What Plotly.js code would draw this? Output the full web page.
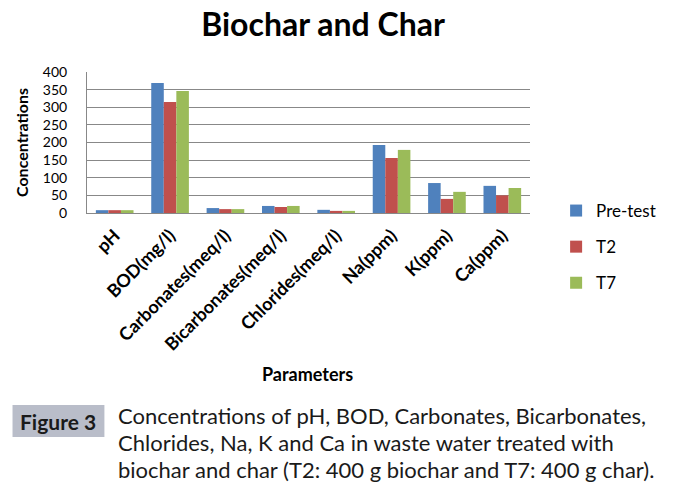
<!DOCTYPE html>
<html>
<head>
<meta charset="utf-8">
<script src="https://cdn.plot.ly/plotly-3.0.1.min.js"></script>
<style>html,body{margin:0;padding:0;background:#fff;}#chart{width:673px;height:490px;}</style>
</head>
<body>
<div id="chart"></div>
<script>
const categories = ["pH", "BOD(mg/l)", "Carbonates(meq/l)", "Bicarbonates(meq/l)", "Chlorides(meq/l)", "Na(ppm)", "K(ppm)", "Ca(ppm)"];
const preTest = [8, 369, 14, 20, 9, 193, 85, 77];
const t2 = [8, 315, 11, 17, 6, 156, 40, 50];
const t7 = [8, 346, 11, 20, 6, 179, 60, 71];
const seriesNames = ["Pre-test", "T2", "T7"];
const yTicks = [0, 50, 100, 150, 200, 250, 300, 350, 400];
const captionLines = [
  "Concentrations of pH, BOD, Carbonates, Bicarbonates,",
  "Chlorides, Na, K and Ca in waste water treated with",
  "biochar and char (T2: 400 g biochar and T7: 400 g char)."
];

const FONT = "Lato, 'Open Sans', sans-serif";
const colors = ["#4f81bd", "#c0504d", "#9bbb59"];
const seriesData = [preTest, t2, t7];

const traces = seriesData.map((vals, i) => ({
  type: "bar",
  x: categories,
  y: vals,
  name: seriesNames[i],
  legendgroup: "g" + i,
  marker: {color: colors[i], line: {width: 0}},
  hoverinfo: "x+y+name"
}));

// plot area: x 87..545, y 72..213
const L = 87, R = 545, T = 72, B = 213;
const px = x => (x - L) / (R - L);
const py = y => (B - y) / (B - T);

const annotations = [
  {text: "<b>Parameters</b>", xref: "paper", yref: "paper", x: px(315), y: py(374),
   xanchor: "center", yanchor: "middle", showarrow: false,
   font: {family: FONT, size: 18, color: "#000"}},
  {text: "<b>Figure 3</b>", xref: "paper", yref: "paper", x: px(57), y: py(421),
   xanchor: "center", yanchor: "middle", showarrow: false,
   font: {family: FONT, size: 21, color: "#1a1a1a"}}
];
const lineY = [415, 442, 469];
captionLines.forEach((t, i) => {
  annotations.push({text: t, xref: "paper", yref: "paper", x: px(117), y: py(lineY[i]),
    xanchor: "left", yanchor: "middle", showarrow: false,
    font: {family: FONT, size: 22, color: "#1a1a1a"}});
});

const layout = {
  width: 673, height: 490,
  margin: {l: L, r: 673 - R, t: T, b: 490 - B, pad: 0},
  paper_bgcolor: "#fff", plot_bgcolor: "#fff",
  title: {text: "<b>Biochar and Char</b>", x: 0.48, xanchor: "center", y: 1 - 25/490, yanchor: "middle",
          font: {family: FONT, size: 32, color: "#000"}},
  barmode: "group", bargap: 0.32, bargroupgap: 0,
  xaxis: {type: "category", tickangle: -45, showgrid: false, showline: true, linecolor: "#888", linewidth: 1,
          ticks: "", tickfont: {family: FONT, size: 18, color: "#000", weight: "bold"}, automargin: false,
          ticklabelstandoff: 4, fixedrange: true},
  yaxis: {range: [0, 400], tickvals: yTicks, ticktext: yTicks.map(String), showgrid: true, gridcolor: "#888", gridwidth: 1,
          showline: true, linecolor: "#888", linewidth: 1, zeroline: false, ticks: "", ticklen: 0,
          tickfont: {family: FONT, size: 14, color: "#000"}, automargin: false, ticklabelstandoff: 16, fixedrange: true,
          title: {text: "<b>Concentrations</b>", standoff: 10, font: {family: FONT, size: 16, color: "#000"}}},
  legend: {x: px(572), y: py(193), xanchor: "left", yanchor: "top", tracegroupgap: 11,
           font: {family: FONT, size: 17, color: "#000"}, bgcolor: "rgba(0,0,0,0)", itemwidth: 30},
  shapes: [
    {type: "rect", xref: "paper", yref: "paper", x0: px(10), x1: px(105), y0: py(437), y1: py(405),
     fillcolor: "#b9bdc9", line: {width: 0}, layer: "below"}
  ],
  annotations: annotations
};

Plotly.newPlot("chart", traces, layout, {displayModeBar: false, staticPlot: true});
</script>
</body>
</html>
